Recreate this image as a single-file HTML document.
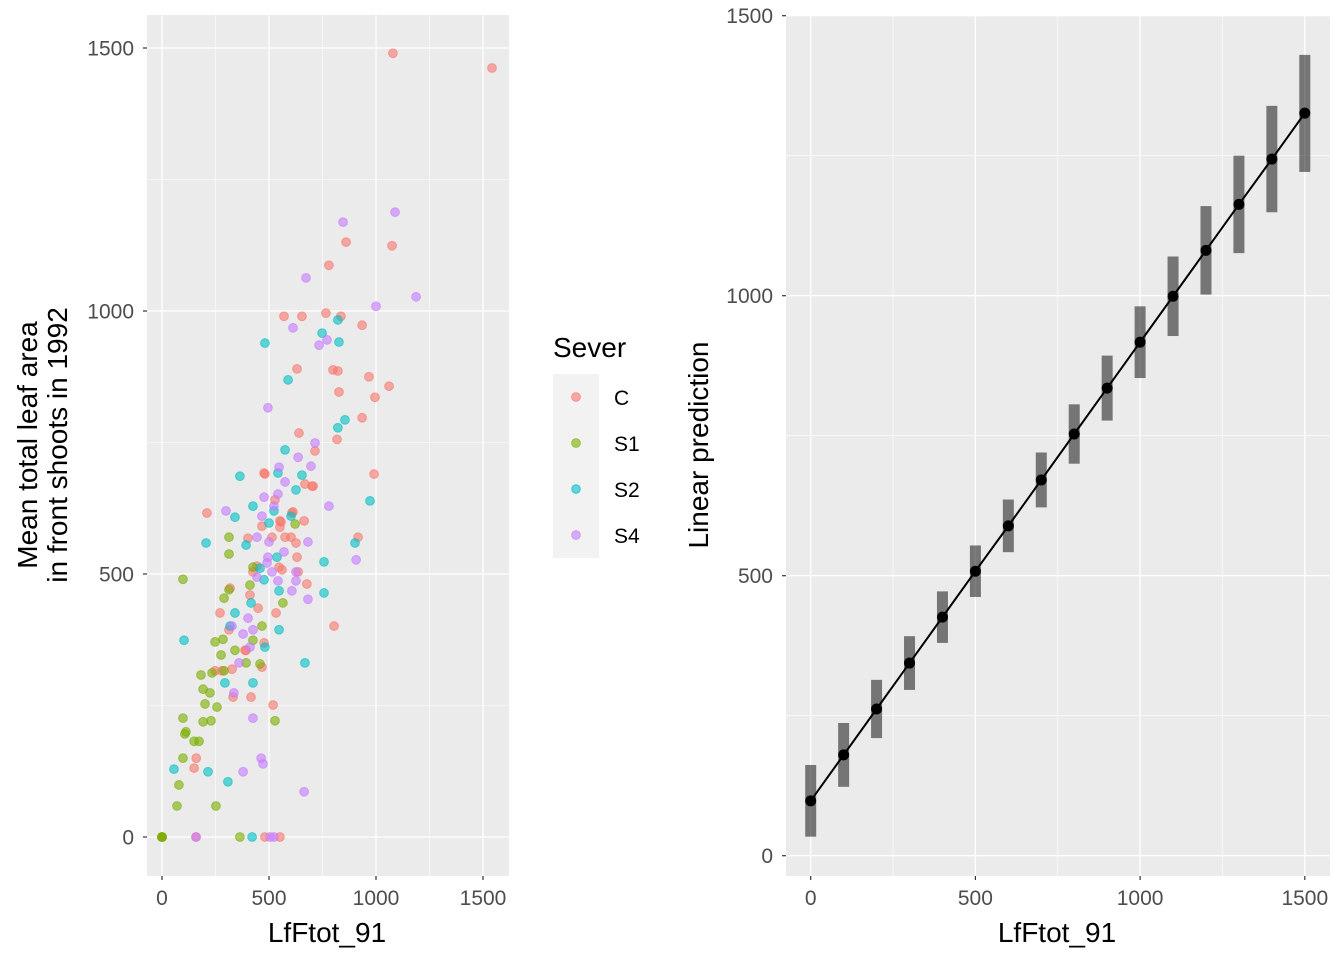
<!DOCTYPE html>
<html><head><meta charset="utf-8">
<style>
html,body{margin:0;padding:0;background:#fff;}
svg{display:block;font-family:"Liberation Sans",Arial,sans-serif;}
</style></head>
<body>
<svg id="chart" width="1344" height="960" viewBox="0 0 1344 960" xmlns="http://www.w3.org/2000/svg">
<g id="left"></g>
<g id="right"></g>
<g id="legend"></g>
</svg>
<script>
const severGroups = ["C","S1","S2","S4"];
const severColors = ["#F8766D","#7CAE00","#00BFC4","#C77CFF"];
const cX = [1079,1542,860,1075,780,570,654,766,836,935,631,799,822,967,1061,995,827,640,935,481,991,210,607,664,556,701,626,636,916,804,677,528,271,533,467,444,425,318,402,388,327,280,467,416,332,519,150,159,481,551,0,818,715,477,668,706,612,551,551,514,575,603,631,547,561,411,449,313,477,393,248,160];
const cY = [1490,1462,1131,1124,1087,990,990,996,990,973,890,888,886,875,857,836,846,768,797,690,690,616,616,601,599,667,559,504,570,401,481,641,426,426,591,515,504,473,568,355,319,316,323,266,266,251,131,0,0,0,0,756,734,692,671,667,618,601,589,570,570,570,532,513,508,460,435,394,369,355,316,150];
const s1X = [0,0,0,98,313,313,425,411,313,290,565,467,425,248,285,276,341,393,458,290,182,234,192,224,201,257,98,192,229,528,112,107,150,173,98,79,70,252,364,622];
const s1Y = [0,0,0,490,570,538,513,479,470,454,445,401,374,371,376,346,355,331,329,316,308,312,281,274,253,247,226,219,221,221,200,196,182,182,150,99,59,59,0,595];
const s2X = [855,822,575,364,542,654,626,972,425,341,523,603,500,206,393,902,757,537,458,477,547,757,416,341,318,547,103,481,668,294,425,56,215,308,421,822,748,827,481,589];
const s2Y = [793,778,736,686,692,688,660,639,629,608,620,610,597,559,555,559,523,532,511,489,468,464,445,426,401,394,374,361,331,293,293,129,124,105,0,983,958,941,939,869];
const s4X = [1089,846,673,1000,1187,612,771,734,495,715,636,696,547,575,542,477,299,780,523,467,444,682,500,570,495,907,491,514,626,444,542,626,607,682,402,327,379,425,411,360,336,425,463,472,379,664,159,505,523];
const s4Y = [1188,1169,1063,1009,1027,968,945,935,816,749,722,705,703,675,652,646,620,629,629,610,570,561,561,542,532,527,521,504,504,494,487,487,468,452,416,401,386,394,361,331,274,226,150,139,124,86,0,0,0];
const predX = [0,100,200,300,400,500,600,700,800,900,1000,1100,1200,1300,1400,1500];
const predY = [98,180,262,344,426,508,589,671,753,835,917,999,1081,1163,1244,1326];
const predLo = [34,123,210,296,380,462,542,622,700,777,853,928,1002,1076,1149,1221];
const predHi = [162,237,314,392,472,554,636,720,806,893,981,1070,1160,1250,1339,1430];
const xTicks = [0,500,1000,1500];
const yTicks = [0,500,1000,1500];

const NS="http://www.w3.org/2000/svg";
function mk(parent,tag,attrs,text){const e=document.createElementNS(NS,tag);for(const k in attrs)e.setAttribute(k,attrs[k]);if(text!==undefined)e.textContent=text;parent.appendChild(e);return e;}
const TICK=21, TITLE=28;

// LEFT PANEL
const L={x0:147,x1:509,y0:15,y1:876};
const lx=v=>162+v*0.214;
const ly=v=>837-v*0.526;
const left=document.getElementById('left');
let bg=mk(left,'rect',{x:L.x0,y:L.y0,width:L.x1-L.x0,height:L.y1-L.y0,fill:'#EBEBEB'});


[250,750,1250].forEach(v=>{mk(left,'line',{x1:L.x0,x2:L.x1,y1:ly(v),y2:ly(v),stroke:'#fff','stroke-width':0.6});
 mk(left,'line',{x1:lx(v),x2:lx(v),y1:L.y0,y2:L.y1,stroke:'#fff','stroke-width':0.6});});
yTicks.forEach(v=>{mk(left,'line',{x1:L.x0,x2:L.x1,y1:ly(v),y2:ly(v),stroke:'#fff','stroke-width':1.3});
 mk(left,'line',{x1:L.x0-4,x2:L.x0,y1:ly(v),y2:ly(v),stroke:'#333','stroke-width':1.2});
 const t=mk(left,'text',{x:L.x0-13,y:ly(v)+7.5,'text-anchor':'end','font-size':TICK,fill:'#4D4D4D'},String(v));
 
 });
xTicks.forEach(v=>{mk(left,'line',{x1:lx(v),x2:lx(v),y1:L.y0,y2:L.y1,stroke:'#fff','stroke-width':1.3});
 mk(left,'line',{x1:lx(v),x2:lx(v),y1:L.y1,y2:L.y1+4,stroke:'#333','stroke-width':1.2});
 const t=mk(left,'text',{x:lx(v),y:905,'text-anchor':'middle','font-size':TICK,fill:'#4D4D4D'},String(v));
 
 });
const series=[[cX,cY],[s1X,s1Y],[s2X,s2Y],[s4X,s4Y]];
series.forEach((s,gi)=>{s[0].forEach((xv,i)=>{
 const c=mk(left,'circle',{cx:lx(xv),cy:ly(s[1][i]),r:4.4,fill:severColors[gi],'fill-opacity':0.6,stroke:severColors[gi],'stroke-opacity':0.6,'stroke-width':1});
 
 });});
let t=mk(left,'text',{x:327,y:942,'text-anchor':'middle','font-size':TITLE,fill:'#000'},'LfFtot_91');


t=mk(left,'text',{transform:'translate(37,445) rotate(-90)','text-anchor':'middle','font-size':TITLE,fill:'#000'});


mk(t,'tspan',{x:0,dy:0},'Mean total leaf area');
mk(t,'tspan',{x:0,dy:30},'in front shoots in 1992');

// LEGEND
const lg=document.getElementById('legend');
t=mk(lg,'text',{x:553,y:357,'font-size':TITLE,fill:'#000'},'Sever');


mk(lg,'rect',{x:553,y:374,width:46,height:184,fill:'#F2F2F2'});
severGroups.forEach((g,i)=>{const cy=397+i*46;
 const c=mk(lg,'circle',{cx:576,cy:cy,r:4.4,fill:severColors[i],'fill-opacity':0.6,stroke:severColors[i],'stroke-opacity':0.6,'stroke-width':1});
 
 
 const tx=mk(lg,'text',{x:614,y:cy+8,'font-size':TICK,fill:'#000'},g);
 
 });

// RIGHT PANEL
const R={x0:786,x1:1330,y0:15.7,y1:876};
const rx=v=>810.7+v*0.3294;
const ry=v=>855.7-v*0.56;
const right=document.getElementById('right');
bg=mk(right,'rect',{x:R.x0,y:R.y0,width:R.x1-R.x0,height:R.y1-R.y0,fill:'#EBEBEB'});


[250,750,1250].forEach(v=>{mk(right,'line',{x1:R.x0,x2:R.x1,y1:ry(v),y2:ry(v),stroke:'#fff','stroke-width':0.6});
 mk(right,'line',{x1:rx(v),x2:rx(v),y1:R.y0,y2:R.y1,stroke:'#fff','stroke-width':0.6});});
yTicks.forEach(v=>{mk(right,'line',{x1:R.x0,x2:R.x1,y1:ry(v),y2:ry(v),stroke:'#fff','stroke-width':1.3});
 mk(right,'line',{x1:R.x0-4,x2:R.x0,y1:ry(v),y2:ry(v),stroke:'#333','stroke-width':1.2});
 const tt=mk(right,'text',{x:R.x0-13,y:ry(v)+7.5,'text-anchor':'end','font-size':TICK,fill:'#4D4D4D'},String(v));
 
 });
xTicks.forEach(v=>{mk(right,'line',{x1:rx(v),x2:rx(v),y1:R.y0,y2:R.y1,stroke:'#fff','stroke-width':1.3});
 mk(right,'line',{x1:rx(v),x2:rx(v),y1:R.y1,y2:R.y1+4,stroke:'#333','stroke-width':1.2});
 const tt=mk(right,'text',{x:rx(v),y:905,'text-anchor':'middle','font-size':TICK,fill:'#4D4D4D'},String(v));
 
 });
predX.forEach((xv,i)=>{const b=mk(right,'rect',{x:rx(xv)-5.5,y:ry(predHi[i]),width:11,height:ry(predLo[i])-ry(predHi[i]),fill:'#000','fill-opacity':0.5});
 
 });
const ln=mk(right,'polyline',{points:predX.map((xv,i)=>rx(xv)+','+ry(predY[i])).join(' '),fill:'none',stroke:'#000','stroke-width':2});


predX.forEach((xv,i)=>{const c=mk(right,'circle',{cx:rx(xv),cy:ry(predY[i]),r:5.5,fill:'#000'});
 
 });
t=mk(right,'text',{x:1057,y:942,'text-anchor':'middle','font-size':TITLE,fill:'#000'},'LfFtot_91');


t=mk(right,'text',{transform:'translate(708,445) rotate(-90)','text-anchor':'middle','font-size':TITLE,fill:'#000'},'Linear prediction');


</script>
</body></html>
